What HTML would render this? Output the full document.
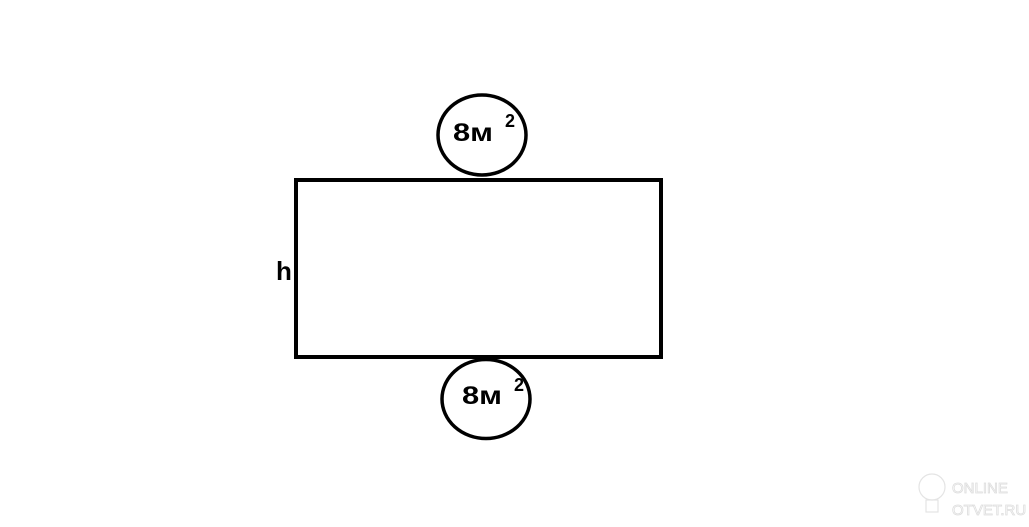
<!DOCTYPE html>
<html><head><meta charset="utf-8"><style>html,body{margin:0;padding:0;background:#fff;width:1029px;height:527px;overflow:hidden}</style></head>
<body>
<svg width="1029" height="527" xmlns="http://www.w3.org/2000/svg" font-family="Liberation Sans, sans-serif" font-weight="bold">
<rect x="296" y="180" width="365" height="177" fill="none" stroke="#000" stroke-width="4"/>
<ellipse cx="482" cy="135" rx="44" ry="40" fill="#fff" stroke="#000" stroke-width="3.5"/>
<ellipse cx="486" cy="399" rx="44" ry="39.5" fill="none" stroke="#000" stroke-width="3.5"/>
<text x="453" y="141" font-size="25" textLength="40" lengthAdjust="spacingAndGlyphs">8м</text>
<text x="505" y="127" font-size="18">2</text>
<text x="462" y="404" font-size="25" textLength="40" lengthAdjust="spacingAndGlyphs">8м</text>
<text x="514" y="391" font-size="18">2</text>
<text x="276" y="280" font-size="26">h</text>
<g fill="none" stroke="#e4e4e4" stroke-width="1.2">
<circle cx="932" cy="487" r="13"/>
<rect x="926" y="500" width="12" height="12"/>
</g>
<text x="952" y="493" font-size="15" font-weight="normal" fill="#fff" stroke="#ddd" stroke-width="0.8">ONLINE</text>
<text x="952" y="515" font-size="15" font-weight="normal" fill="#fff" stroke="#ddd" stroke-width="0.8">OTVET.RU</text>
</svg>
</body></html>
